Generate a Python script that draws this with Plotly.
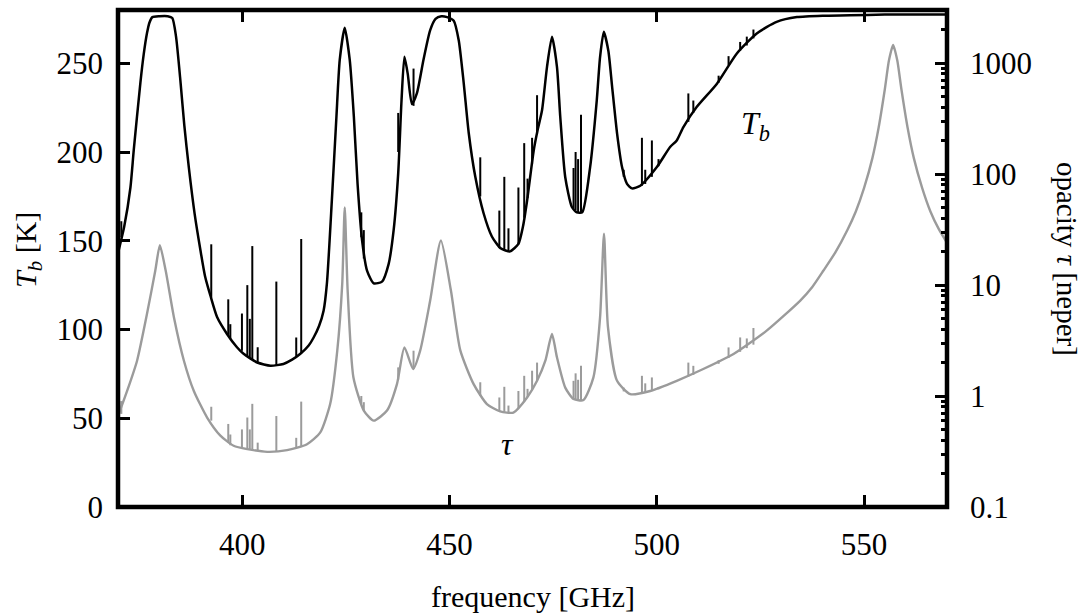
import plotly.graph_objects as go

# ---------------- data ----------------
# brightness temperature T_b [K], smooth curve
tb_freq = [370.0, 371.5, 373.0, 373.8, 375.4, 376.2, 377.0, 377.6, 378.3, 380.0, 382.0, 383.1, 384.0,
           385.1, 386.0, 387.1, 388.5, 389.9, 391.0, 392.3, 393.9, 396.3, 398.7, 400.3, 403.6,
           406.8, 409.9, 412.0, 414.0, 416.0, 417.2, 418.5, 419.6, 420.4, 421.6, 422.7, 423.5,
           424.7, 425.9, 426.9, 427.8, 428.9, 430.1, 431.7, 433.7, 435.3, 436.5, 437.6, 438.4,
           439.1, 439.9, 440.9, 442.1, 443.7, 445.3, 446.6, 448.0, 449.4, 451.0, 452.2, 453.4,
           454.6, 456.2, 458.2, 460.2, 462.2, 463.5, 464.6, 466.6, 467.7, 468.7, 470.3, 471.2,
           472.3, 473.5, 474.7, 475.9, 476.7, 477.9, 479.5, 480.7, 482.0, 483.9, 485.5, 486.3,
           487.2, 488.3, 489.2, 490.4, 491.6, 492.8, 494.0, 496.0, 500.0, 503.2, 504.8, 506.4,
           509.6, 514.5, 519.3, 524.1, 528.9, 533.8, 540.0, 546.6, 555.0, 562.0, 570.0]
tb_val = [143, 158, 180, 201, 239, 255, 267, 273, 276, 276.5, 276.5, 275.5, 265,
          239, 215, 191, 165, 144.5, 130, 119, 107, 97.5, 90, 86.3, 81.4,
          79.6, 80.6, 83, 86.3, 91, 95.5, 102, 110.6, 126, 173, 220, 252,
          270, 252, 220, 182, 150, 133, 126, 127, 137, 156, 188, 229,
          253.6, 244, 227, 233, 252, 268.5, 275, 276.5, 276, 274, 263, 239,
          211, 186, 165.5, 152.4, 145.9, 144.5, 144, 148.2, 158, 172.7, 201, 212,
          223.5, 248, 265, 248, 219.7, 185.8, 169, 166, 166, 191.5, 229, 253.5,
          267.7, 257, 237, 210.5, 191.5, 182, 179.5, 181, 191.5, 202.8, 206.5, 214,
          225.3, 238.5, 255.5, 266.8, 273.3, 276, 276.8, 277, 277.4, 277.5, 277.5]

# narrow lines on T_b: frequency, foot and tip [K]
tb_spike_freq = [370.8, 392.5, 396.6, 397.1, 399.9, 401.2, 401.8, 402.4, 403.7, 408.2, 413.0, 414.2,
                 428.7, 429.3, 437.6, 441.3, 457.4, 462.0, 463.2, 464.2, 466.6, 468.0, 468.8,
                 469.9, 471.1, 479.9, 480.4, 481.0, 481.7, 492.0, 496.4, 497.2, 498.8, 500.4,
                 507.6, 508.8, 514.9, 517.3, 520.1, 521.7, 523.3]
tb_spike_base = [152, 118, 97, 95, 88, 85, 84, 83, 81.5, 79.7, 84.5, 86.5,
                 152, 140, 200, 226, 175, 146, 145, 144, 148, 163, 174,
                 193, 210, 168, 167, 166, 166, 186, 181, 182, 186, 192,
                 217, 222, 239, 249, 257, 260, 264]
tb_spike_tip = [161, 148, 117, 103, 109, 125, 106, 147, 90, 127, 95.5, 151,
                166, 156, 222, 247, 197, 167, 186, 157, 180, 205, 185,
                208, 232, 191, 200, 196, 221, 190, 208, 190, 206.5, 196,
                233, 229, 243, 254, 262, 265, 269]

# opacity tau [neper], smooth curve
tau_freq = [370.0, 372.2, 374.6, 377.0, 379.0, 380.1, 381.5, 383.5, 385.9, 388.3, 391.5, 394.7,
            397.9, 401.2, 406.0, 410.8, 415.6, 418.8, 421.2, 422.9, 424.1, 424.7, 425.4, 426.8,
            429.3, 431.7, 434.9, 437.3, 439.1, 441.2, 442.9, 445.3, 447.9, 450.3, 452.6, 455.8,
            459.0, 462.2, 465.4, 468.7, 471.1, 473.1, 474.7, 475.9, 477.9, 479.9, 482.3, 484.7,
            486.3, 487.25, 488.2, 490.4, 493.6, 498.4, 504.8, 511.2, 518.5, 526.5, 534.6, 537.5,
            540.2, 543.0, 546.0, 548.0, 550.0, 552.0, 553.5, 555.0, 556.0, 557.0, 558.0, 559.0,
            560.5, 562.0, 564.0, 566.0, 568.0, 570.0]
tau_val = [0.66, 1.11, 2.08, 5.5, 13.5, 22.8, 13.5, 5.1, 2.08, 1.11, 0.64, 0.44,
           0.356, 0.332, 0.314, 0.325, 0.368, 0.47, 0.85, 2.56, 10.3, 50, 9.0, 1.47,
           0.74, 0.60, 0.74, 1.28, 2.74, 1.75, 2.56, 7.2, 25.2, 9.0, 2.56, 1.28,
           0.846, 0.726, 0.71, 0.97, 1.37, 2.08, 3.62, 2.23, 1.19, 0.94, 0.92, 1.47,
           5.1, 29, 4.2, 1.37, 1.04, 1.11, 1.37, 1.75, 2.39, 3.88, 7.24, 9.6,
           13.5, 19.5, 31.5, 46, 75, 139, 261, 580, 1057, 1456, 1057, 580,
           261, 139, 75, 46, 32, 24]

# narrow lines on tau: frequency, foot and tip [neper]
tau_spike_freq = [370.8, 392.5, 396.6, 397.1, 399.9, 401.2, 401.8, 402.4, 403.7, 408.2, 413.0, 414.2,
                  428.7, 429.3, 437.6, 441.3, 457.4, 462.0, 463.2, 464.2, 466.6, 468.0, 468.8,
                  469.9, 471.1, 479.9, 480.4, 481.0, 481.7, 492.0, 496.4, 497.2, 498.8, 500.4,
                  507.6, 508.8, 514.9, 517.3, 520.1, 521.7, 523.3]
tau_spike_base = [0.69, 0.6, 0.38, 0.36, 0.34, 0.33, 0.33, 0.325, 0.32, 0.314, 0.34, 0.355,
                  0.85, 0.74, 1.4, 1.75, 1.0, 0.73, 0.72, 0.71, 0.78, 0.88, 0.98,
                  1.15, 1.37, 0.94, 0.93, 0.92, 0.92, 1.1, 1.07, 1.08, 1.11, 1.15,
                  1.5, 1.55, 1.95, 2.2, 2.5, 2.7, 2.9]
tau_spike_tip = [0.9, 0.8, 0.56, 0.45, 0.5, 0.64, 0.5, 0.85, 0.38, 0.66, 0.42, 0.89,
                 1.0, 0.88, 1.81, 2.56, 1.33, 0.97, 1.21, 0.82, 1.11, 1.52, 1.16,
                 1.69, 2.0, 1.37, 1.6, 1.4, 1.87, 1.19, 1.52, 1.3, 1.47, 1.2,
                 2.0, 1.87, 2.1, 2.74, 3.37, 3.3, 4.1]

x_ticks = [400, 450, 500, 550]
tb_ticks = [0, 50, 100, 150, 200, 250]
tau_ticks = [0.1, 1, 10, 100, 1000]
tau_tick_text = ["0.1", "1", "10", "100", "1000"]

# ---------------- figure ----------------
FONT = "Liberation Serif, Times New Roman, serif"
BLACK = "#000000"
GREY = "#9b9b9b"


def spike_xy(freqs, bases, tips):
    xs, ys = [], []
    for f, b, t in zip(freqs, bases, tips):
        xs += [f, f, None]
        ys += [b, t, None]
    return xs, ys


fig = go.Figure()

fig.add_trace(go.Scatter(x=tau_freq, y=tau_val, yaxis="y2", mode="lines",
                         line=dict(color=GREY, width=2.4, shape="spline", smoothing=0.6),
                         hoverinfo="skip", showlegend=False))
sx, sy = spike_xy(tau_spike_freq, tau_spike_base, tau_spike_tip)
fig.add_trace(go.Scatter(x=sx, y=sy, yaxis="y2", mode="lines",
                         line=dict(color=GREY, width=2.0),
                         hoverinfo="skip", showlegend=False))

fig.add_trace(go.Scatter(x=tb_freq, y=tb_val, mode="lines",
                         line=dict(color=BLACK, width=2.5, shape="spline", smoothing=0.6),
                         hoverinfo="skip", showlegend=False))
sx, sy = spike_xy(tb_spike_freq, tb_spike_base, tb_spike_tip)
fig.add_trace(go.Scatter(x=sx, y=sy, mode="lines",
                         line=dict(color=BLACK, width=2.0),
                         hoverinfo="skip", showlegend=False))

minor_tau = [m * 10.0 ** e for e in range(-1, 4) for m in range(2, 10) if m * 10.0 ** e < 3000]

tickfont = dict(family=FONT, size=31, color=BLACK)

fig.update_layout(
    width=1088, height=616,
    margin=dict(l=118, r=141, t=10, b=109),
    paper_bgcolor="white", plot_bgcolor="white",
    font=dict(family=FONT, color=BLACK),
    xaxis=dict(range=[370, 570], tickmode="array", tickvals=x_ticks,
               ticks="inside", ticklen=12, tickwidth=3, tickcolor=BLACK,
               mirror="ticks", showline=False, showgrid=False, zeroline=False,
               tickfont=tickfont, ticklabelstandoff=16),
    yaxis=dict(range=[0, 280], tickmode="array", tickvals=tb_ticks,
               ticks="inside", ticklen=12, tickwidth=3, tickcolor=BLACK,
               showline=False, showgrid=False, zeroline=False,
               tickfont=tickfont, ticklabelstandoff=14),
    yaxis2=dict(type="log", range=[-1, 3.4775], overlaying="y", side="right",
                tickmode="array", tickvals=tau_ticks, ticktext=tau_tick_text,
                ticks="inside", ticklen=12, tickwidth=3, tickcolor=BLACK,
                minor=dict(tickmode="array", tickvals=minor_tau, ticks="inside",
                           ticklen=6, tickwidth=3, tickcolor=BLACK),
                showline=False, showgrid=False, zeroline=False,
                tickfont=tickfont, ticklabelstandoff=22),
    shapes=[dict(type="rect", xref="paper", yref="paper", x0=0, x1=1, y0=0, y1=1,
                 line=dict(color=BLACK, width=4.5), layer="above")],
    annotations=[
        dict(text="frequency [GHz]", xref="paper", yref="paper", x=0.5, y=-0.181,
             showarrow=False, font=dict(family=FONT, size=30, color=BLACK),
             xanchor="center", yanchor="middle"),
        dict(text="<i>T<sub>b</sub></i> [K]", xref="paper", yref="paper", x=-0.1086, y=0.517,
             textangle=-90, showarrow=False, font=dict(family=FONT, size=30, color=BLACK),
             xanchor="center", yanchor="middle"),
        dict(text="opacity <i>τ</i> [neper]", xref="paper", yref="paper", x=1.1448, y=0.499,
             textangle=90, showarrow=False, font=dict(family=FONT, size=29, color=BLACK),
             xanchor="center", yanchor="middle"),
        dict(text="<i>T<sub>b</sub></i>", x=523.7, y=215, xref="x", yref="y",
             showarrow=False, font=dict(family=FONT, size=32, color=BLACK)),
        dict(text="<i>τ</i>", x=463.9, y=35.5, xref="x", yref="y",
             showarrow=False, font=dict(family=FONT, size=32, color=BLACK)),
    ],
)

fig.write_html("out.html", config={"displayModeBar": False},
               post_script="document.body.style.margin='0px';")
